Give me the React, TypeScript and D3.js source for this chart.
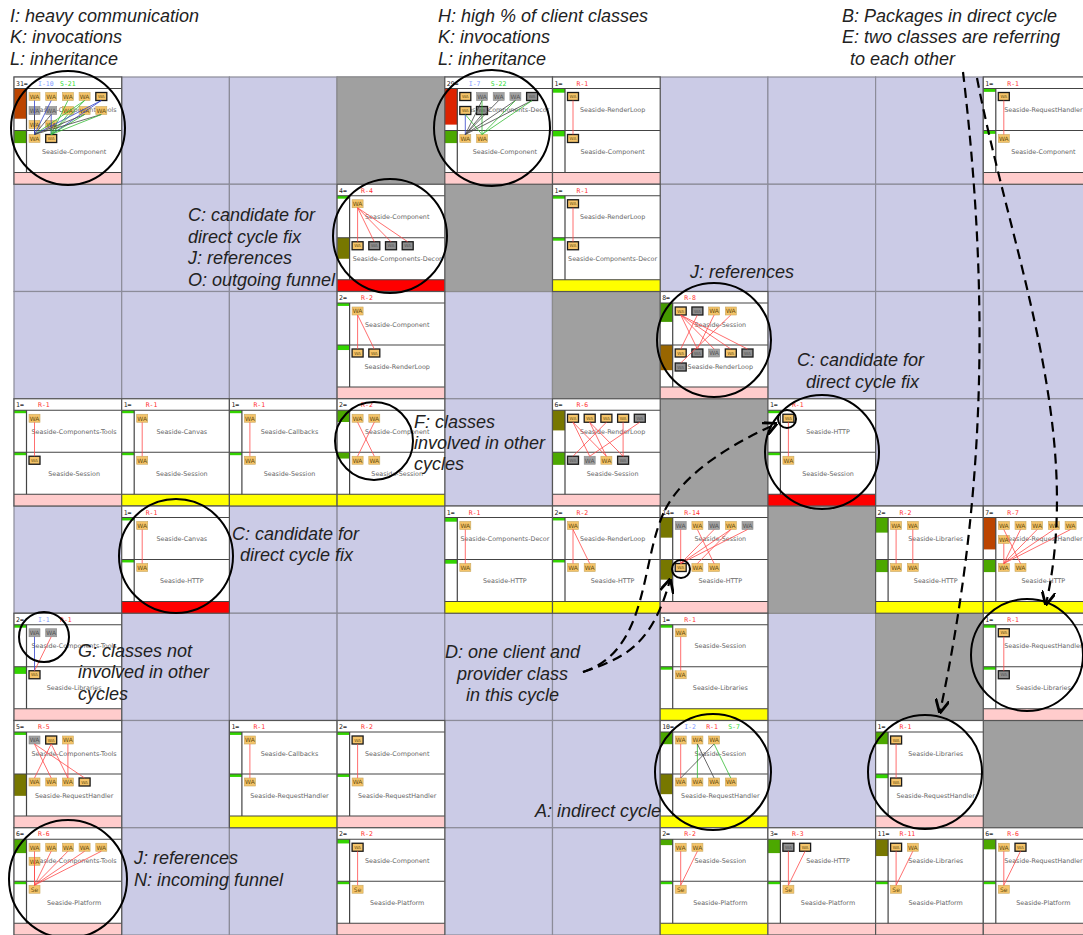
import React from 'react';
import * as d3 from 'd3';

const W = 1083, H = 935;
const NCOLS = 10, NROWS = 8;

// diagonal (package vs itself) cells
const diagonal: [number, number][] = [[0, 3], [1, 4], [2, 5], [3, 6], [4, 7], [5, 8], [6, 9]];

// row, col, header tokens, top package, bottom package, top classes, bottom classes, strip colour
// class codes: o = class, g = grey class, O = class in cycle (bold), G = grey class in cycle, S = "Se" class
const cells: [number, number, string, string, string, string, string, string][] = [
  [0, 0, "31=|I-10|S-21", "Seaside-Components-Tools", "Seaside-Component", "ooooOggooooo", "oO", "pink"],
  [0, 4, "29=|I-7|S-22", "Seaside-Components-Decor", "Seaside-Component", "OgggGOG", "oo", "pink"],
  [0, 5, "1=|R-1", "Seaside-RenderLoop", "Seaside-Component", "O", "O", "pink"],
  [0, 9, "1=|R-1", "Seaside-RequestHandler", "Seaside-Component", "O", "o", "pink"],
  [1, 3, "4=|R-4", "Seaside-Component", "Seaside-Components-Decor", "o", "OGGG", "red"],
  [1, 5, "1=|R-1", "Seaside-RenderLoop", "Seaside-Components-Decor", "O", "O", "yellow"],
  [2, 3, "2=|R-2", "Seaside-Component", "Seaside-RenderLoop", "o", "OO", "pink"],
  [2, 6, "8=|R-8", "Seaside-Session", "Seaside-RenderLoop", "OGoo", "OGgOGG", "pink"],
  [3, 0, "1=|R-1", "Seaside-Components-Tools", "Seaside-Session", "o", "O", "pink"],
  [3, 1, "1=|R-1", "Seaside-Canvas", "Seaside-Session", "o", "o", "yellow"],
  [3, 2, "1=|R-1", "Seaside-Callbacks", "Seaside-Session", "o", "o", "yellow"],
  [3, 3, "2=|R-2", "Seaside-Component", "Seaside-Session", "oo", "oo", "yellow"],
  [3, 5, "6=|R-6", "Seaside-RenderLoop", "Seaside-Session", "OOOOG", "GgoG", "pink"],
  [3, 7, "1=|R-1", "Seaside-HTTP", "Seaside-Session", "O", "o", "red"],
  [4, 1, "1=|R-1", "Seaside-Canvas", "Seaside-HTTP", "o", "o", "red"],
  [4, 4, "1=|R-1", "Seaside-Components-Decor", "Seaside-HTTP", "o", "o", "yellow"],
  [4, 5, "2=|R-2", "Seaside-RenderLoop", "Seaside-HTTP", "o", "oo", "yellow"],
  [4, 6, "14=|R-14", "Seaside-Session", "Seaside-HTTP", "gogog", "Ooo", "pink"],
  [4, 8, "2=|R-2", "Seaside-Libraries", "Seaside-HTTP", "oo", "oo", "yellow"],
  [4, 9, "7=|R-7", "Seaside-RequestHandler", "Seaside-HTTP", "oooooo", "oo", "yellow"],
  [5, 0, "2=|I-1|R-1", "Seaside-Components-Tools", "Seaside-Libraries", "gg", "O", "pink"],
  [5, 6, "1=|R-1", "Seaside-Session", "Seaside-Libraries", "o", "o", "yellow"],
  [5, 9, "1=|R-1", "Seaside-RequestHandler", "Seaside-Libraries", "O", "G", "pink"],
  [6, 0, "5=|R-5", "Seaside-Components-Tools", "Seaside-RequestHandler", "gOo", "oooO", "pink"],
  [6, 2, "1=|R-1", "Seaside-Callbacks", "Seaside-RequestHandler", "o", "o", "yellow"],
  [6, 3, "2=|R-2", "Seaside-Component", "Seaside-RequestHandler", "O", "o", "pink"],
  [6, 6, "10=|I-2|R-1|S-7", "Seaside-Session", "Seaside-RequestHandler", "ooo", "oooo", "yellow"],
  [6, 8, "1=|R-1", "Seaside-Libraries", "Seaside-RequestHandler", "O", "O", "pink"],
  [7, 0, "6=|R-6", "Seaside-Components-Tools", "Seaside-Platform", "oooooo", "S", "pink"],
  [7, 3, "2=|R-2", "Seaside-Component", "Seaside-Platform", "O", "S", "pink"],
  [7, 6, "2=|R-2", "Seaside-Session", "Seaside-Platform", "oo", "S", "yellow"],
  [7, 7, "3=|R-3", "Seaside-HTTP", "Seaside-Platform", "GO", "S", "pink"],
  [7, 8, "11=|R-11", "Seaside-Libraries", "Seaside-Platform", "Oo", "S", "pink"],
  [7, 9, "6=|R-6", "Seaside-RequestHandler", "Seaside-Platform", "oO", "S", "pink"],
];

// package ratio bars (percent of box): [top colour, top %, bottom colour, bottom %] — same order as cells
const bars: [string, number, string, number][] = [
  ["rust", 72, "green", 30], ["red", 86, "green", 30], ["lime", 10, "lime", 14], ["lime", 8, "lime", 8],
  ["lime", 7, "olive", 50], ["lime", 7, "lime", 7], ["lime", 7, "lime", 12], ["dgreen", 45, "brown", 60],
  ["lime", 7, "lime", 7], ["lime", 7, "lime", 7], ["lime", 7, "lime", 7], ["green", 28, "green", 15],
  ["olive", 48, "green", 30], ["lime", 7, "lime", 7], ["lime", 7, "lime", 7], ["lime", 10, "lime", 10],
  ["lime", 7, "lime", 7], ["olive", 48, "olive", 48], ["green", 36, "green", 30], ["rust", 76, "green", 30],
  ["lime", 7, "lime", 17], ["lime", 7, "lime", 7], ["lime", 7, "lime", 7], ["lime", 7, "olive", 52],
  ["lime", 7, "lime", 7], ["lime", 7, "lime", 7], ["green", 29, "olive", 48], ["green", 29, "lime", 10],
  ["green", 33, "lime", 7], ["lime", 10, "lime", 7], ["green", 14, "lime", 7], ["green", 33, "lime", 7],
  ["olive", 40, "lime", 7], ["green", 24, "lime", 7],
];

// dependencies: "from:to:kind" (r = reference, b = invocation, g = inheritance, k = other)
const edges: string[] = [
  "0:0:b 1:0:b 2:1:g 3:0:g 3:1:g 4:0:b 4:1:b 5:0:k 6:0:k 6:1:b 7:1:g 8:0:k 8:1:g 9:0:k 9:1:g 10:0:b 11:1:g",
  "1:0:k 1:1:g 2:0:k 3:0:k 3:1:g 4:0:k 4:1:g 5:0:b 5:1:g 6:0:k",
  "0:0:r", "0:0:r",
  "0:0:r 0:1:r 0:2:r 0:3:r", "0:0:r", "0:0:r 0:1:r",
  "0:1:r 0:3:r 0:4:r 1:0:r 2:1:r 3:5:r 0:2:r",
  "0:0:r", "0:0:r", "0:0:r", "0:1:r 1:0:r",
  "0:2:r 1:2:r 2:0:r 3:3:r 4:1:r 1:3:r 0:1:r",
  "0:0:r", "0:0:r", "0:0:r", "0:0:r 0:1:r",
  "0:0:r 1:2:r 2:0:r 3:0:r 3:1:r 4:0:r",
  "0:0:r 1:1:r", "0:1:r 1:0:r 2:0:r 3:0:r 4:0:r 5:0:r",
  "0:0:b 1:0:r", "0:0:r", "0:0:r",
  "0:1:r 0:3:r 1:0:r 2:2:r 1:2:r", "0:0:r", "0:0:r",
  "0:0:r 1:1:g 1:2:k 2:0:k 2:3:g", "0:0:r",
  "0:0:r 1:0:r 2:0:r 3:0:r 4:0:r 5:0:r", "0:0:r", "0:0:r 1:0:r", "0:0:r 1:0:r", "0:0:r 1:0:r", "0:0:r 1:0:r",
];

// annotations
const notes: [string, number, number][] = [
  ["I: heavy communication", 10, 22], ["K: invocations", 10, 43], ["L: inheritance", 10, 65],
  ["H: high % of client classes", 438, 22], ["K: invocations", 438, 43], ["L: inheritance", 438, 65],
  ["B: Packages in direct cycle", 842, 22], ["E: two classes are referring", 842, 43], ["to each other", 850, 65],
  ["C: candidate for", 188, 221], ["direct cycle fix", 188, 243], ["J: references", 188, 264], ["O: outgoing funnel", 188, 286],
  ["J: references", 690, 278],
  ["C: candidate for", 797, 366], ["direct cycle fix", 806, 388],
  ["F: classes", 414, 428], ["involved in other", 414, 449], ["cycles", 414, 470],
  ["C: candidate for", 232, 540], ["direct cycle fix", 240, 561],
  ["G: classes not", 78, 657], ["involved in other", 78, 678], ["cycles", 78, 700],
  ["D: one client and", 445, 658], ["provider class", 457, 680], ["in this cycle", 466, 701],
  ["A: indirect cycle", 535, 817],
  ["J: references", 134, 864], ["N: incoming funnel", 134, 886],
];

const circles: [number, number, number][] = [
  [68, 128, 57], [492, 128, 58], [390, 236, 57], [714, 340, 57], [374, 441, 39], [822, 452, 57],
  [787, 419, 9], [176, 556, 57], [681, 569, 9], [44, 637, 25], [1027, 655, 56], [713, 772, 58],
  [925, 772, 57], [68, 879, 59],
];

const arrows: [number, number][][] = [
  [[963, 72], [990, 300], [985, 500], [940, 712]],
  [[977, 78], [1010, 250], [1085, 430], [1046, 604]],
  [[583, 672], [625, 658], [652, 645], [670, 580]],
  [[583, 672], [650, 650], [640, 560], [665, 510]],
];
const arrowTail: [number, number][] = [[665, 510], [685, 470], [740, 440], [776, 424]];

const barColor: Record<string, string> = {
  lime: '#33d400', green: '#4ca800', dgreen: '#449900', olive: '#777700', brown: '#996600', rust: '#bb4400', red: '#dd2200',
};
const stripColor: Record<string, string> = { pink: '#ffcccc', yellow: '#ffff00', red: '#ff0000' };
const edgeColor: Record<string, string> = { r: '#ff4a4a', b: '#3344cc', g: '#33bb33', k: '#444444' };
const tokenColor: Record<string, string> = { I: '#7f9cff', R: '#ff3030', S: '#33dd33' };

const x = d3.scaleLinear().domain([0, NCOLS]).range([14, 14 + 107.7 * NCOLS]);
const y = d3.scaleLinear().domain([0, NROWS]).range([77, 935]);

const HEAD = 11.5, BOX = 42, LEFT = 12.5;
const CW = 11, CH = 8, DX = 16.7, DY = 14;

function classPos(i: number, x0: number, boxTop: number) {
  return { cx: x0 + 15 + (i % 5) * DX, cy: boxTop + 4 + Math.floor(i / 5) * DY };
}

function ClassBox({ code, px, py }: { code: string; px: number; py: number }) {
  const grey = code === 'g' || code === 'G';
  const bold = code === 'O' || code === 'G';
  return (
    <g>
      <rect x={px} y={py} width={CW} height={CH} fill={grey ? (bold ? '#8f8f8f' : '#a2a2a2') : '#f5c46a'}
        stroke={bold ? '#1a1a1a' : (grey ? '#8a8a8a' : '#c8a860')} strokeWidth={bold ? 1.3 : 0.6} />
      <text x={px + CW / 2} y={py + (bold ? 5.6 : 6.3)} textAnchor="middle" fontFamily="DejaVu Sans" fontSize={bold ? 4.2 : 6}
        fill={grey ? '#555' : '#6a5010'}>{code === 'S' ? 'Se' : 'WA'}</text>
    </g>
  );
}

function Cell({ idx }: { idx: number }) {
  const [r, c, head, topPkg, botPkg, topCls, botCls, strip] = cells[idx];
  const [tc, tp, bc, bp] = bars[idx];
  const x0 = x(c), x1 = x(c + 1), y0 = y(r), y1 = y(r + 1);
  const cw = x1 - x0;
  const topY = y0 + HEAD, botY = topY + BOX, stripY = botY + BOX;
  const tokens = head.split('|');
  const innerCx = x0 + LEFT + (cw - LEFT) / 2;
  const es = edges[idx].split(' ').filter(Boolean).map(s => s.split(':'));
  return (
    <g>
      <rect x={x0} y={y0} width={cw} height={y1 - y0} fill="#fff" />
      <rect x={x0} y={stripY} width={cw} height={y1 - stripY} fill={stripColor[strip]} />
      <rect x={x0} y={topY} width={LEFT} height={BOX * tp / 100} fill={barColor[tc]} />
      <rect x={x0} y={botY} width={LEFT} height={BOX * bp / 100} fill={barColor[bc]} />
      {tokens.map((t, i) => (
        <text key={i} x={x0 + 2 + i * 22} y={y0 + 8.5} fontFamily="DejaVu Sans Mono" fontSize={6.5}
          fill={i === 0 ? '#222' : tokenColor[t[0]]}>{t}</text>
      ))}
      <line x1={x0} x2={x1} y1={topY} y2={topY} stroke="#444" strokeWidth={1.2} />
      <line x1={x0} x2={x1} y1={botY} y2={botY} stroke="#444" strokeWidth={1.2} />
      <line x1={x0} x2={x1} y1={stripY} y2={stripY} stroke="#444" strokeWidth={1.2} />
      <line x1={x0 + LEFT} x2={x0 + LEFT} y1={topY} y2={stripY} stroke="#444" strokeWidth={1.2} />
      <text x={innerCx} y={topY + BOX / 2 + 2.5} textAnchor="middle" fontFamily="DejaVu Sans" fontSize={6.4} fill="#666">{topPkg}</text>
      <text x={innerCx} y={botY + BOX / 2 + 2.5} textAnchor="middle" fontFamily="DejaVu Sans" fontSize={6.4} fill="#666">{botPkg}</text>
      {topCls.split('').map((cd, i) => {
        const p = classPos(i, x0, topY);
        return <ClassBox key={'t' + i} code={cd} px={p.cx} py={p.cy} />;
      })}
      {botCls.split('').map((cd, i) => {
        const p = classPos(i, x0, botY);
        return <ClassBox key={'b' + i} code={cd} px={p.cx} py={p.cy} />;
      })}
      {es.map(([f, t, k], i) => {
        const a = classPos(+f, x0, topY), b = classPos(+t, x0, botY);
        return <line key={'e' + i} x1={a.cx + CW / 2} y1={a.cy + CH} x2={b.cx + CW / 2} y2={b.cy}
          stroke={edgeColor[k]} strokeWidth={0.8} />;
      })}
      <rect x={x0} y={y0} width={cw} height={y1 - y0} fill="none" stroke="#555" strokeWidth={1.2} />
    </g>
  );
}

export default function App() {
  const line = d3.line<[number, number]>().curve(d3.curveBasis);
  const bez = (p: [number, number][]) => `M${p[0][0]},${p[0][1]} C${p[1][0]},${p[1][1]} ${p[2][0]},${p[2][1]} ${p[3][0]},${p[3][1]}`;
  void line;
  return (
    <svg width={W} height={H} style={{ position: 'absolute', left: 0, top: 0, background: '#fff' }}>
      <defs>
        <marker id="ah" viewBox="0 0 10 10" refX={9} refY={5} markerWidth={14} markerHeight={14}
          markerUnits="userSpaceOnUse" orient="auto">
          <path d="M0,0 L10,5 L0,10" fill="none" stroke="#000" strokeWidth={2} />
        </marker>
      </defs>
      {d3.range(NROWS).map(r => d3.range(NCOLS).map(c => (
        <rect key={r + '-' + c} x={x(c)} y={y(r)} width={x(c + 1) - x(c)} height={y(r + 1) - y(r)}
          fill="#cbcbe6" stroke="#8c8c99" strokeWidth={1.2} />
      )))}
      {diagonal.map(([r, c]) => (
        <rect key={'d' + r} x={x(c)} y={y(r)} width={x(c + 1) - x(c)} height={y(r + 1) - y(r)}
          fill="#a0a0a0" stroke="#8c8c8c" strokeWidth={1.2} />
      ))}
      {cells.map((_, i) => <Cell key={i} idx={i} />)}
      {circles.map(([cx, cy, r], i) => (
        <circle key={'c' + i} cx={cx} cy={cy} r={r} fill="none" stroke="#000" strokeWidth={2} />
      ))}
      {arrows.map((p, i) => (
        <path key={'a' + i} d={bez(p)} fill="none" stroke="#000" strokeWidth={2.2} strokeDasharray="10,6"
          markerEnd={i === 3 ? undefined : 'url(#ah)'} />
      ))}
      <path d={bez(arrowTail)} fill="none" stroke="#000" strokeWidth={2.2} strokeDasharray="10,6" markerEnd="url(#ah)" />
      {notes.map(([t, nx, ny], i) => (
        <text key={'n' + i} x={nx} y={ny} fontFamily="Liberation Sans" fontStyle="italic" fontSize={18} fill="#222">{t}</text>
      ))}
    </svg>
  );
}
